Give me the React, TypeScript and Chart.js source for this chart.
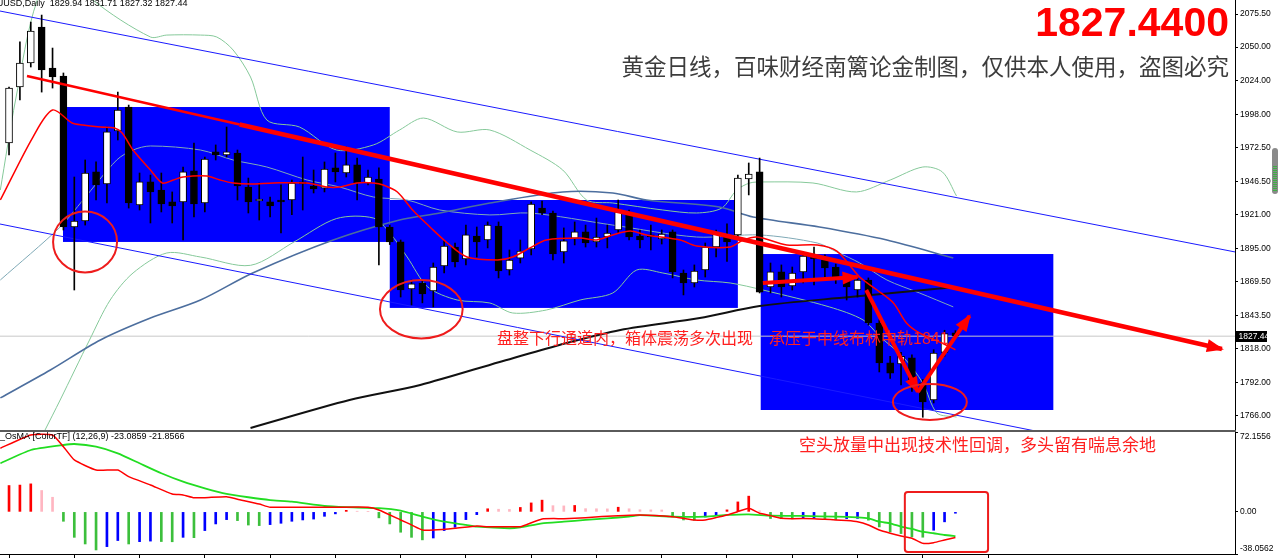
import React, { useEffect, useRef } from 'react';
import { Chart, registerables } from 'chart.js';

Chart.register(...registerables);

// ---------------- data ----------------
const opens = [1976.2, 2019.3, 2037.8, 2065.5, 2033.9, 2027.8, 1911.5, 1916.1, 1953.9, 1944.6,
  1985.4, 2003.9, 1928.5, 1946.2, 1940.0, 1930.8, 1930.8, 1954.7, 1930.0, 1969.3,
  1967.0, 1968.5, 1942.3, 1931.5, 1930.8, 1932.3, 1932.3, 1946.2, 1943.1, 1941.5,
  1957.0, 1953.1, 1959.3, 1945.4, 1948.5, 1911.5, 1900.0, 1863.8, 1868.4, 1862.2,
  1881.5, 1896.1, 1886.9, 1904.6, 1901.5, 1912.3, 1878.4, 1887.6, 1894.6, 1926.1,
  1922.3, 1892.3, 1903.0, 1907.7, 1900.0, 1903.8, 1909.2, 1922.3, 1904.6, 1905.4,
  1902.3, 1907.7, 1876.1, 1868.4, 1878.4, 1896.1, 1905.0, 1905.4, 1948.5, 1953.9,
  1865.3, 1876.9, 1866.1, 1877.0, 1888.0, 1886.1, 1880.7, 1870.0, 1863.0, 1870.7,
  1837.6, 1807.0, 1806.0, 1810.7, 1791.5, 1778.4, 1815.0, 1829.94];
const highs = [2019.3, 2054.0, 2069.3, 2074.7, 2049.3, 2030.1, 1950.0, 1963.1, 1961.6, 1988.5,
  2015.4, 2005.4, 1953.1, 1951.5, 1953.1, 1938.5, 1957.7, 1976.2, 1965.4, 1974.7,
  1988.5, 1970.8, 1949.2, 1945.4, 1934.6, 1943.9, 1947.7, 1965.4, 1955.4, 1961.6,
  1968.5, 1973.1, 1964.6, 1955.4, 1957.0, 1913.0, 1901.5, 1870.7, 1870.7, 1883.8,
  1901.5, 1899.2, 1913.0, 1911.5, 1915.4, 1915.4, 1893.8, 1901.5, 1930.8, 1931.5,
  1923.8, 1910.8, 1915.4, 1913.0, 1918.4, 1913.0, 1932.3, 1924.6, 1909.2, 1913.0,
  1909.2, 1909.2, 1878.4, 1882.3, 1899.2, 1909.2, 1914.0, 1951.5, 1960.8, 1964.6,
  1883.8, 1882.3, 1880.7, 1892.3, 1896.0, 1890.0, 1883.0, 1874.5, 1872.3, 1872.3,
  1840.0, 1812.0, 1815.0, 1813.0, 1794.0, 1817.0, 1832.0, 1831.71];
const lows = [1967.0, 2009.3, 2034.7, 2015.4, 2018.5, 1909.2, 1863.0, 1913.0, 1932.3, 1930.0,
  1978.5, 1926.1, 1924.6, 1914.6, 1923.1, 1914.6, 1901.5, 1919.2, 1923.1, 1963.1,
  1965.4, 1932.3, 1922.3, 1916.9, 1919.2, 1906.9, 1921.0, 1924.6, 1937.7, 1938.5,
  1946.2, 1950.0, 1932.3, 1943.9, 1882.3, 1898.0, 1857.6, 1851.5, 1853.1, 1850.0,
  1876.1, 1880.7, 1882.3, 1888.4, 1895.4, 1872.3, 1874.5, 1883.8, 1890.0, 1921.0,
  1886.1, 1883.8, 1897.7, 1896.1, 1896.1, 1895.4, 1906.9, 1901.5, 1895.4, 1893.8,
  1898.4, 1872.3, 1859.2, 1865.3, 1873.0, 1888.4, 1885.0, 1903.8, 1936.2, 1860.7,
  1860.7, 1857.6, 1863.0, 1868.4, 1867.0, 1873.0, 1868.0, 1855.3, 1857.6, 1836.0,
  1799.9, 1795.0, 1790.0, 1785.0, 1765.0, 1776.0, 1812.0, 1827.32];
const closes = [2018.5, 2037.8, 2062.4, 2032.4, 2027.0, 1911.5, 1916.1, 1953.1, 1943.9, 1984.7,
  2001.6, 1930.0, 1946.2, 1938.5, 1929.2, 1927.7, 1953.9, 1929.2, 1963.9, 1967.0,
  1969.3, 1943.1, 1930.8, 1933.1, 1927.7, 1930.8, 1945.4, 1944.6, 1940.8, 1956.2,
  1953.9, 1959.3, 1945.4, 1950.0, 1911.5, 1900.0, 1863.0, 1867.7, 1860.0, 1880.7,
  1896.9, 1884.6, 1905.4, 1900.0, 1913.0, 1877.6, 1886.1, 1893.0, 1929.2, 1922.3,
  1890.7, 1900.8, 1907.7, 1899.2, 1903.8, 1906.9, 1923.1, 1903.8, 1901.5, 1903.8,
  1906.1, 1877.0, 1868.4, 1877.6, 1896.1, 1906.1, 1900.0, 1949.2, 1952.3, 1861.4,
  1876.9, 1865.3, 1876.1, 1889.2, 1887.5, 1880.0, 1873.0, 1865.3, 1870.7, 1837.6,
  1806.8, 1799.0, 1812.0, 1793.8, 1776.8, 1814.5, 1829.5, 1827.44];

const lastClose = 1827.44;
const priceTicks = [2075.5, 2050, 2024, 1998, 1972.5, 1946.5, 1921, 1895, 1869.5, 1843.5, 1818, 1792, 1766];
const osmaTicks = [72.1556, 0, -38.0562];
const osmaTickLabels = ['72.1556', '0.00', '-38.0562'];
const dateTicks = [3, 9, 15, 21, 27, 33, 39, 45, 51, 57, 63, 69, 75, 81, 87];

// moving averages / bands: [bar, price]
const redMa = [[-0.8, 1932.3], [2.2, 1980.8], [4.0, 2001.6], [5.8, 1991.6], [6.8, 1990.0], [8.4, 1988.5], [9.7, 1987.7], [10.4, 1983.9], [11.4, 1970.8], [13.0, 1955.4], [14.1, 1945.4], [15.1, 1947.7], [16.0, 1950.0], [18.2, 1950.8], [19.4, 1947.7], [20.6, 1945.4], [22.2, 1944.6], [24.3, 1945.4], [27.4, 1945.4], [29.2, 1942.3], [30.4, 1942.3], [32.0, 1945.4], [33.5, 1945.4], [34.4, 1943.9], [35.7, 1938.5], [37.1, 1924.6], [38.7, 1911.5], [40.3, 1899.2], [42.1, 1888.4], [44.9, 1886.1], [46.3, 1888.4], [47.9, 1895.4], [49.4, 1901.5], [52.5, 1903.0], [54.0, 1901.5], [55.5, 1905.4], [57.1, 1908.4], [58.6, 1905.4], [61.7, 1901.5], [63.2, 1896.9], [66.3, 1896.1], [67.5, 1901.5], [68.8, 1903.8], [71.5, 1897.7], [74.3, 1897.7], [76.1, 1893.0], [78.2, 1873.0], [79.8, 1863.0], [81.3, 1853.0], [82.5, 1837.6], [83.7, 1829.9], [85.8, 1822.0], [87.0, 1817.0]];
const blackMa = [[22.2, 1756.8], [31.3, 1778.3], [37.8, 1789.9], [45.1, 1807.6], [50.6, 1820.7], [56.2, 1832.2], [63.5, 1841.4], [69.0, 1850.7], [77.3, 1857.6], [87.0, 1865.3]];
const steelMa = [[-0.8, 1779.9], [3.8, 1801.4], [8.4, 1824.5], [13.0, 1841.4], [17.6, 1855.3], [22.4, 1876.1], [29.8, 1901.5], [35.9, 1916.9], [39.6, 1922.3], [44.2, 1930.0], [50.9, 1938.5], [55.5, 1937.7], [58.6, 1932.3], [65.3, 1926.9], [68.4, 1919.2], [74.5, 1911.5], [80.7, 1901.5], [86.8, 1887.6]];
const upperBand = [[-0.8, 1940.0], [0.6, 2009.3], [2.6, 2086.3], [5.0, 2112.0], [7.7, 2086.3], [13.0, 2057.8], [14.5, 2059.3], [17.6, 2059.3], [19.1, 2057.8], [20.6, 2047.8], [22.2, 2027.0], [23.7, 1993.9], [26.7, 1988.5], [30.1, 1970.8], [33.5, 1974.7], [35.9, 1986.2], [38.1, 1995.4], [41.2, 1984.7], [44.2, 1986.2], [47.9, 1970.8], [50.9, 1955.4], [53.1, 1932.3], [55.5, 1930.0], [60.1, 1924.6], [63.2, 1922.3], [65.5, 1926.0], [66.9, 1940.0], [68.1, 1945.4], [69.3, 1946.2], [73.9, 1945.4], [77.9, 1938.5], [81.0, 1947.7], [84.0, 1957.7], [85.8, 1953.9], [87.1, 1935.4]];
const middleBand = [[-0.8, 1870.7], [4.7, 1911.5], [6.8, 1932.3], [9.9, 1963.1], [11.4, 1970.8], [13.0, 1973.9], [17.6, 1970.8], [20.6, 1963.1], [23.7, 1957.7], [27.4, 1947.7], [30.4, 1942.3], [33.5, 1934.6], [36.6, 1932.3], [39.6, 1924.6], [44.2, 1920.8], [47.9, 1922.3], [55.5, 1913.0], [63.2, 1903.8], [69.0, 1905.4], [74.3, 1899.2], [76.1, 1892.3], [78.2, 1883.8], [80.7, 1870.7], [83.7, 1860.7], [86.8, 1850.0]];
const lowerBand = [[3.3, 1755.0], [4.7, 1778.3], [7.4, 1824.5], [9.3, 1855.3], [11.4, 1876.1], [14.5, 1891.5], [17.6, 1888.4], [22.2, 1882.0], [26.2, 1900.0], [30.1, 1918.0], [33.5, 1918.4], [35.0, 1907.0], [36.6, 1888.4], [38.5, 1865.3], [41.2, 1855.3], [44.2, 1853.0], [46.3, 1845.3], [49.4, 1847.6], [52.5, 1855.3], [55.5, 1860.7], [57.7, 1878.4], [60.1, 1876.1], [63.2, 1870.7], [66.3, 1868.4], [69.3, 1863.0], [75.4, 1850.0], [78.5, 1840.0], [80.1, 1826.8], [82.2, 1811.4], [84.0, 1791.4], [85.3, 1768.3], [87.1, 1765.2]];

// drawn objects: [bar, price]
const channelUpper = [[-0.83, 2077.8], [112.7, 1892.3]];
const channelLower = [[-0.83, 1913.8], [112.7, 1723.7]];
const trendThin = [[1.65, 2027.8], [21.2, 1990.4]];
const trendMain = [[21.2, 1990.4], [111.5, 1817.6]];
const arrowA = [[69.3, 1868.4], [78.0, 1873.0]];
const arrowB = [[78.8, 1863.0], [83.55, 1784.5]];
const arrowC = [[83.55, 1784.5], [88.3, 1843.0]];
// boxes: [barFrom, barTo, priceTop, priceBottom]
const boxes = [[4.96, 35.0, 2003.9, 1900.0], [35.0, 67.0, 1932.3, 1849.2], [69.1, 96.0, 1890.7, 1770.6]];
// ellipses: [bar, price, radiusBars, radiusPrice]
const circles = [[6.99, 1900.0, 2.94, 23.5], [37.9, 1848.2, 3.8, 22.5], [84.65, 1776.8, 3.4, 13.9]];

// OsMA sub window
const osma = [23.8, 24.2, 25.3, 19.3, 13.2, -8.5, -23.0, -29.0, -34.4, -31.4,
  -25.9, -29.0, -26.9, -26.4, -26.8, -27.0, -23.0, -23.3, -16.9, -10.9,
  -7.0, -7.9, -11.9, -12.4, -11.5, -10.3, -8.5, -7.3, -6.5, -4.0,
  -1.8, 1.4, 0.6, 0.3, -5.4, -10.9, -18.4, -23.0, -25.3, -23.6,
  -16.9, -13.9, -7.0, -2.5, 2.8, 2.4, 2.2, 4.0, 8.1, 10.6,
  5.6, 5.4, 5.8, 2.9, 2.8, 2.7, 4.2, 2.8, 1.9, 1.8,
  1.7, -4.6, -7.3, -7.6, -4.6, -3.0, 1.8, 9.0, 14.2, 0.9,
  -6.0, -6.2, -6.3, -6.1, -5.5, -6.1, -6.9, -6.1, -5.9, -7.5,
  -13.6, -18.1, -19.6, -22.6, -22.9, -16.6, -9.0, -1.23];
const macdMain = [[-0.8, 57.5], [2, 69.5], [4, 69.5], [5, 58.9], [6, 46.9], [8, 37.8], [10, 37.8], [11, 31.8], [13, 24.3], [15, 16.2], [16, 15.3], [17, 12.8], [18, 12.8], [20, 13.7], [21, 11.4], [23, 7.1], [24, 4.2], [27, 4.2], [30, 4.2], [33, 4.2], [34, 1.7], [36, -7.3], [37, -11.8], [38, -16.4], [39, -16.4], [41, -14.8], [43, -12.7], [44, -13.4], [46, -13.4], [47, -13.4], [49, -6.4], [51, -6.1], [53, -5.2], [56, -3.4], [58, -2.8], [61, -4.3], [62, -5.8], [63, -7.3], [64, -7.3], [65, -5.2], [66, -2.8], [67, 0.2], [68, 3.3], [69, -1.3], [70, -3.4], [71, -5.8], [72, -6.1], [74, -6.1], [75, -6.7], [76, -7.3], [77, -7.9], [78, -8.9], [79, -11.8], [80, -16.4], [81, -19.3], [82, -21.8], [83, -23.8], [84, -28.4], [85, -27.8], [86, -25.4], [87, -23.0859]];
const macdSignal = [[-0.8, 43.9], [2, 55.9], [5, 60.4], [6, 61.3], [8, 58.9], [10, 52.9], [12, 43.9], [14, 34.9], [16, 27.3], [18, 21.3], [20, 16.2], [22, 13.2], [24, 10.7], [26, 9.2], [29, 5.3], [31, 4.2], [34, 3.3], [36, 1.1], [38, -4.3], [40, -8.9], [42, -11.8], [43, -13.4], [46, -14.8], [47, -13.9], [49, -10.3], [51, -8.9], [53, -7.3], [55, -5.8], [57, -4.3], [58, -3.0], [61, -4.3], [64, -4.3], [66, -2.8], [68, -2.2], [70, -3.4], [73, -3.7], [76, -4.3], [78, -4.9], [79, -5.8], [80, -8.9], [81, -10.3], [82, -13.4], [83, -15.4], [84, -17.9], [85, -19.3], [86, -20.9], [87, -21.8566]];
// highlighted region in sub window: [barFrom, barTo, top, bottom]
const osmaBox = [82.35, 90.0, 18.0, -36.2];

// texts
const headerMain = 'XAUUSD,Daily  1829.94 1831.71 1827.32 1827.44';
const headerSub = '_OsMA [ColorTF] (12,26,9) -23.0859 -21.8566';
const bigPrice = '1827.4400';
const noteTop = '黄金日线，百味财经南篱论金制图，仅供本人使用，盗图必究';
const noteMid = '盘整下行通道内，箱体震荡多次出现　承压于中线布林中轨1841';
const noteBottom = '空头放量中出现技术性回调，多头留有喘息余地';

// axis extents
const X_MIN = -0.83, X_MAX = 112.7;
const P_MIN = 1755.2, P_MAX = 2086.3;
const O_MIN = -38.0562, O_MAX = 72.1556;

// ---------------- helpers ----------------
const pts = (a: number[][]) => a.map(([x, y]) => ({ x, y }));
const lineDs = (data: number[][], color: string, width: number, order: number, tension = 0.3) => ({
  type: 'line', data: pts(data), borderColor: color, borderWidth: width, pointRadius: 0,
  pointHoverRadius: 0, tension, fill: false, order,
});

function drawHead(ctx: CanvasRenderingContext2D, x0: number, y0: number, x1: number, y1: number, len: number, half: number) {
  const a = Math.atan2(y1 - y0, x1 - x0);
  const bx = x1 - len * Math.cos(a), by = y1 - len * Math.sin(a);
  ctx.beginPath();
  ctx.moveTo(x1 + 2 * Math.cos(a), y1 + 2 * Math.sin(a));
  ctx.lineTo(bx + half * Math.sin(a), by - half * Math.cos(a));
  ctx.lineTo(bx - half * Math.sin(a), by + half * Math.cos(a));
  ctx.closePath();
  ctx.fill();
}

const mainOverlay = {
  id: 'mainOverlay',
  beforeDatasetsDraw(chart: any) {
    const { ctx, chartArea: a, scales } = chart;
    const xs = scales.x, ys = scales.y;
    ctx.save();
    ctx.beginPath();
    ctx.rect(a.left, a.top, a.right - a.left, a.bottom - a.top);
    ctx.clip();
    ctx.fillStyle = '#0000ff';
    boxes.forEach(([x0, x1, t, b]) => {
      const l = xs.getPixelForValue(x0), r = xs.getPixelForValue(x1);
      const tp = ys.getPixelForValue(t), bt = ys.getPixelForValue(b);
      ctx.fillRect(l, tp, r - l, bt - tp);
    });
    ctx.restore();
  },
  afterDatasetsDraw(chart: any) {
    const { ctx, scales } = chart;
    const xs = scales.x, ys = scales.y;
    ctx.save();
    // texts
    ctx.textBaseline = 'alphabetic';
    ctx.textAlign = 'left';
    ctx.font = '9px "Liberation Sans"';
    ctx.fillStyle = '#000';
    const skip = ctx.measureText('XAU').width;
    ctx.fillText(headerMain, 3.3 - skip, 5.5);

    ctx.textAlign = 'right';
    ctx.fillStyle = '#ff0000';
    ctx.font = 'bold 41px "Liberation Sans"';
    ctx.fillText(bigPrice, 1229, 36);

    ctx.textBaseline = 'middle';
    ctx.fillStyle = '#3c3c3c';
    ctx.font = '22.5px "Noto Sans CJK SC"';
    ctx.fillText(noteTop, 1229, 66);

    ctx.textAlign = 'left';
    ctx.fillStyle = '#ff2020';
    ctx.font = '16px "Noto Sans CJK SC"';
    ctx.fillText(noteMid, 497, 338);

    // arrow heads
    ctx.fillStyle = '#ff0000';
    [trendMain, arrowA, arrowB, arrowC].forEach((p) => {
      const n = p.length;
      const x0 = xs.getPixelForValue(p[n - 2][0]), y0 = ys.getPixelForValue(p[n - 2][1]);
      const x1 = xs.getPixelForValue(p[n - 1][0]), y1 = ys.getPixelForValue(p[n - 1][1]);
      drawHead(ctx, x0, y0, x1, y1, 15, 6.5);
    });

    // ellipses
    ctx.strokeStyle = '#ee1c1c';
    ctx.lineWidth = 2;
    circles.forEach(([cx, cy, rx, ry]) => {
      const px = xs.getPixelForValue(cx), py = ys.getPixelForValue(cy);
      const prx = Math.abs(xs.getPixelForValue(cx + rx) - px);
      const pry = Math.abs(ys.getPixelForValue(cy + ry) - py);
      ctx.beginPath();
      ctx.ellipse(px, py, prx, pry, 0, 0, Math.PI * 2);
      ctx.stroke();
    });

    // current price tag on the axis
    const py = Math.round(ys.getPixelForValue(lastClose));
    ctx.fillStyle = '#000';
    ctx.fillRect(1236, py - 5, 31, 11);
    ctx.fillStyle = '#fff';
    ctx.font = '8.5px "Liberation Sans"';
    ctx.textAlign = 'left';
    ctx.textBaseline = 'middle';
    ctx.fillText(lastClose.toFixed(2), 1238.5, py + 0.5);

    // scroll thumb
    ctx.fillStyle = '#8a8a8a';
    ctx.beginPath();
    ctx.moveTo(1272, 151);
    ctx.arcTo(1272, 148, 1275, 148, 3);
    ctx.arcTo(1278, 148, 1278, 151, 3);
    ctx.lineTo(1278, 191);
    ctx.arcTo(1278, 194, 1275, 194, 3);
    ctx.arcTo(1272, 194, 1272, 191, 3);
    ctx.closePath();
    ctx.fill();
    ctx.fillStyle = '#3cb043';
    for (let yy = 166; yy < 192; yy += 2) ctx.fillRect(1273, yy, 4, 1);
    ctx.restore();
  },
};

const subOverlay = {
  id: 'subOverlay',
  beforeDraw(chart: any) {
    const { ctx } = chart;
    ctx.save();
    ctx.fillStyle = '#fff';
    ctx.fillRect(0, 0, chart.width, chart.height);
    ctx.restore();
  },
  afterDatasetsDraw(chart: any) {
    const { ctx, scales } = chart;
    const xs = scales.x, ys = scales.y;
    ctx.save();
    ctx.fillStyle = '#5a5a5a';
    ctx.fillRect(0, 0, 1236, 2);

    ctx.fillStyle = '#000';
    ctx.font = '9px "Liberation Sans"';
    ctx.textBaseline = 'middle';
    ctx.textAlign = 'left';
    ctx.fillText(headerSub, 0, 7);

    ctx.fillStyle = '#ff2020';
    ctx.font = '17px "Noto Sans CJK SC"';
    ctx.fillText(noteBottom, 799, 15);

    const [b0, b1, t, b] = osmaBox;
    const l = xs.getPixelForValue(b0), r = xs.getPixelForValue(b1);
    const tp = ys.getPixelForValue(t), bt = ys.getPixelForValue(b);
    const rad = 3;
    ctx.strokeStyle = '#ee1c1c';
    ctx.lineWidth = 2;
    ctx.beginPath();
    ctx.moveTo(l + rad, tp);
    ctx.arcTo(r, tp, r, tp + rad, rad);
    ctx.arcTo(r, bt, r - rad, bt, rad);
    ctx.arcTo(l, bt, l, bt - rad, rad);
    ctx.arcTo(l, tp, l + rad, tp, rad);
    ctx.closePath();
    ctx.stroke();
    ctx.restore();
  },
};

export default function App() {
  const mainRef = useRef<HTMLCanvasElement>(null);
  const subRef = useRef<HTMLCanvasElement>(null);

  useEffect(() => {
    const idx = closes.map((_, i) => i);
    const wickData = idx.map((i) => ({ x: i, y: [lows[i], highs[i]] }));
    const bodyData = idx.map((i) => {
      let lo = Math.min(opens[i], closes[i]);
      let hi = Math.max(opens[i], closes[i]);
      if (hi - lo < 1.2) { const m = (lo + hi) / 2; lo = m - 0.6; hi = m + 0.6; }
      return { x: i, y: [lo, hi] };
    });
    const bodyColors = idx.map((i) => (closes[i] >= opens[i] ? '#ffffff' : '#000000'));

    const histColors = osma.map((v, i) => {
      const prev = i > 0 ? osma[i - 1] : v;
      if (v >= 0) return v >= prev ? '#ff0000' : '#ffb6c1';
      return v <= prev ? '#3cbf3c' : '#0000ff';
    });

    const mainChart = new Chart(mainRef.current as HTMLCanvasElement, {
      type: 'line',
      data: {
        datasets: [
          lineDs([[X_MIN, lastClose], [X_MAX, lastClose]], '#c8c8c8', 1, 100, 0),
          lineDs(upperBand, '#86c99a', 1, 90),
          lineDs(middleBand, '#7fa9b6', 1, 90),
          lineDs(lowerBand, '#86c99a', 1, 90),
          lineDs(steelMa, '#4c6e9e', 1.6, 85),
          lineDs(blackMa, '#111111', 2, 80),
          lineDs(channelUpper, '#1a1aff', 1, 75, 0),
          lineDs(channelLower, '#1a1aff', 1, 75, 0),
          {
            type: 'bar', data: wickData, backgroundColor: '#000000', borderWidth: 0,
            barThickness: 1, grouped: false, order: 60,
          },
          {
            type: 'bar', data: bodyData, backgroundColor: bodyColors, borderColor: '#000000',
            borderWidth: 1, borderSkipped: false, barThickness: 7, grouped: false, order: 50,
          },
          lineDs(redMa, '#ff0000', 1.5, 40),
          lineDs(trendThin, '#ff0000', 2.5, 20, 0),
          lineDs(trendMain, '#ff0000', 4.5, 20, 0),
          lineDs(arrowA, '#ff0000', 4, 10, 0),
          lineDs(arrowB, '#ff0000', 4, 10, 0),
          lineDs(arrowC, '#ff0000', 4, 10, 0),
        ] as any,
      },
      options: {
        animation: false,
        responsive: false,
        maintainAspectRatio: false,
        devicePixelRatio: 1,
        events: [],
        layout: { padding: 0 },
        plugins: { legend: { display: false }, tooltip: { enabled: false } },
        scales: {
          x: { type: 'linear', min: X_MIN, max: X_MAX, display: false, offset: false },
          y: {
            type: 'linear', position: 'right', min: P_MIN, max: P_MAX,
            afterBuildTicks: (s: any) => { s.ticks = priceTicks.map((v) => ({ value: v })); },
            afterFit: (s: any) => { s.width = 45; s.paddingTop = 0; s.paddingBottom = 0; },
            grid: { drawOnChartArea: false, drawTicks: true, tickLength: 3, color: '#000' },
            border: { display: true, color: '#000', width: 1 },
            ticks: {
              padding: 2, color: '#000', autoSkip: false,
              font: { family: 'Liberation Sans', size: 8.5 },
              callback: (v: any) => Number(v).toFixed(2),
            },
          },
        },
      } as any,
      plugins: [mainOverlay],
    });

    const subChart = new Chart(subRef.current as HTMLCanvasElement, {
      type: 'line',
      data: {
        datasets: [
          lineDs(macdMain, '#ff0000', 1.5, 1, 0.15),
          lineDs(macdSignal, '#22dd22', 1.8, 2, 0.15),
          {
            type: 'bar', data: osma.map((v, i) => ({ x: i, y: v })), backgroundColor: histColors,
            borderWidth: 0, barThickness: 2, grouped: false, order: 10,
          },
        ] as any,
      },
      options: {
        animation: false,
        responsive: false,
        maintainAspectRatio: false,
        devicePixelRatio: 1,
        events: [],
        layout: { padding: { top: 2, left: 0, right: 0, bottom: 0 } },
        plugins: { legend: { display: false }, tooltip: { enabled: false } },
        scales: {
          x: {
            type: 'linear', min: X_MIN, max: X_MAX, position: 'bottom', offset: false,
            afterBuildTicks: (s: any) => { s.ticks = dateTicks.map((v) => ({ value: v })); },
            afterFit: (s: any) => { s.height = 4; s.paddingLeft = 0; s.paddingRight = 0; },
            grid: { drawOnChartArea: false, drawTicks: true, tickLength: 4, color: '#000' },
            border: { display: true, color: '#000', width: 1 },
            ticks: { display: false },
          },
          y: {
            type: 'linear', position: 'right', min: O_MIN, max: O_MAX,
            afterBuildTicks: (s: any) => { s.ticks = osmaTicks.map((v) => ({ value: v })); },
            afterFit: (s: any) => { s.width = 45; s.paddingTop = 0; s.paddingBottom = 0; },
            grid: { drawOnChartArea: false, drawTicks: true, tickLength: 3, color: '#000' },
            border: { display: true, color: '#000', width: 1 },
            ticks: {
              padding: 2, color: '#000', autoSkip: false,
              font: { family: 'Liberation Sans', size: 8.5, lineHeight: 1.2 },
              callback: (v: any) => {
                const k = osmaTicks.indexOf(Number(v));
                const label = k >= 0 ? osmaTickLabels[k] : String(v);
                if (Number(v) === O_MAX) return ['', label];
                if (Number(v) === O_MIN) return [label, ''];
                return label;
              },
            },
          },
        },
      } as any,
      plugins: [subOverlay],
    });

    return () => {
      mainChart.destroy();
      subChart.destroy();
    };
  }, []);

  return (
    <div style={{ position: 'fixed', left: 0, top: 0, width: 1280, height: 558, background: '#ffffff', overflow: 'hidden' }}>
      <canvas ref={mainRef} width={1280} height={430}
        style={{ position: 'absolute', left: 0, top: 0, width: 1280, height: 430 }} />
      <canvas ref={subRef} width={1280} height={128}
        style={{ position: 'absolute', left: 0, top: 430, width: 1280, height: 128 }} />
    </div>
  );
}
